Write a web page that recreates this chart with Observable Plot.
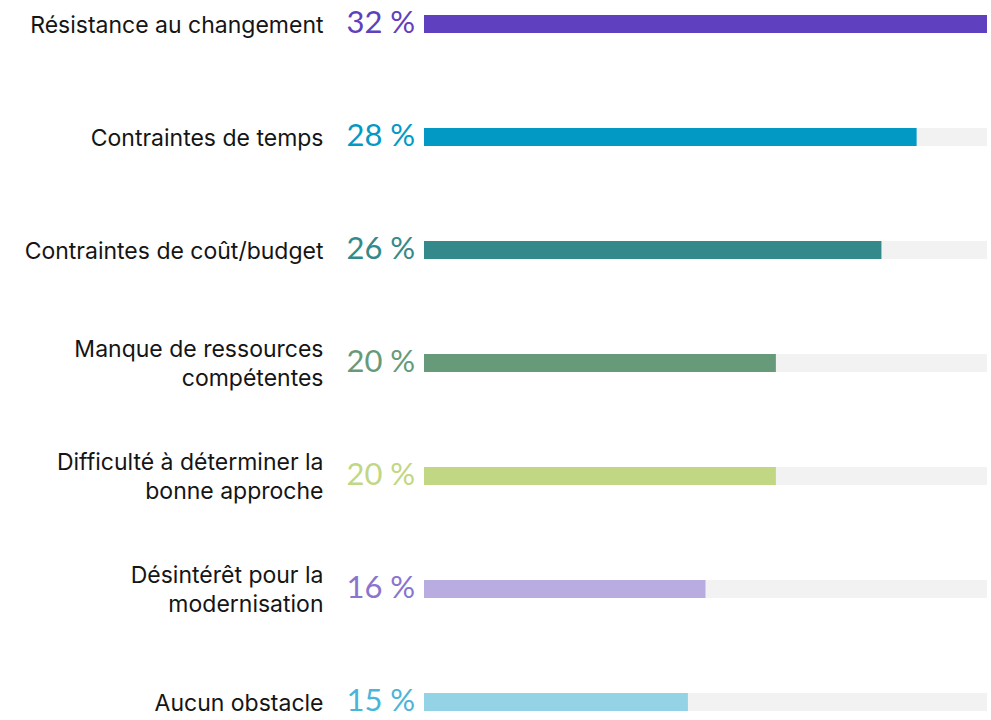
<!DOCTYPE html>
<html>
<head>
<meta charset="utf-8">
<script src="https://cdn.jsdelivr.net/npm/d3@7"></script>
<script src="https://cdn.jsdelivr.net/npm/@observablehq/plot@0.6"></script>
<style>
  html, body { margin: 0; padding: 0; background: #fff; }
  #chart svg { display: block; }
</style>
</head>
<body>
<div id="chart"></div>
<script>
const categories = [
  "Résistance au changement",
  "Contraintes de temps",
  "Contraintes de coût/budget",
  "Manque de ressources\ncompétentes",
  "Difficulté à déterminer la\nbonne approche",
  "Désintérêt pour la\nmodernisation",
  "Aucun obstacle"
];
const values = [32, 28, 26, 20, 20, 16, 15];
const barColors = ["#5f40be", "#0399c5", "#348a8a", "#679a78", "#c1d784", "#b9ace0", "#93d3e5"];
const textColors = ["#5f40be", "#0399c5", "#348a8a", "#679a78", "#c1d784", "#8a74d0", "#4bb5d9"];
const maxValue = 32;

const data = categories.map((c, i) => ({
  category: c,
  value: values[i],
  bar: barColors[i],
  text: textColors[i],
  label: values[i] + "\u202F%"
}));

const chart = Plot.plot({
  width: 991,
  height: 720,
  marginLeft: 424,
  marginRight: 4,
  marginTop: 13,
  marginBottom: 7,
  style: { fontFamily: "Inter, 'Open Sans', sans-serif", background: "#fff" },
  x: { domain: [0, maxValue], axis: null },
  y: { domain: categories, axis: null, paddingInner: 0.8416, paddingOuter: 0 },
  marks: [
    Plot.barX(data, { y: "category", x1: 0, x2: maxValue, fill: "#f2f2f2" }),
    Plot.barX(data, { y: "category", x1: 0, x2: "value", fill: d => d.bar }),
    Plot.text(data, {
      y: "category", text: "category", frameAnchor: "left", textAnchor: "end",
      dx: -101, dy: -1, fontSize: 23, fill: "#151515", lineHeight: 1.27, lineAnchor: "middle",
      style: "letter-spacing:2.2px"
    }),
    Plot.text(data, {
      y: "category", text: "label", frameAnchor: "left", textAnchor: "start",
      dx: -78, dy: -1, fontSize: 31, fontWeight: 400, fill: d => d.text, lineAnchor: "middle",
      fontFamily: "Lato, sans-serif",
      style: "letter-spacing:-1.5px"
    })
  ]
});
document.getElementById("chart").appendChild(chart);
</script>
</body>
</html>
